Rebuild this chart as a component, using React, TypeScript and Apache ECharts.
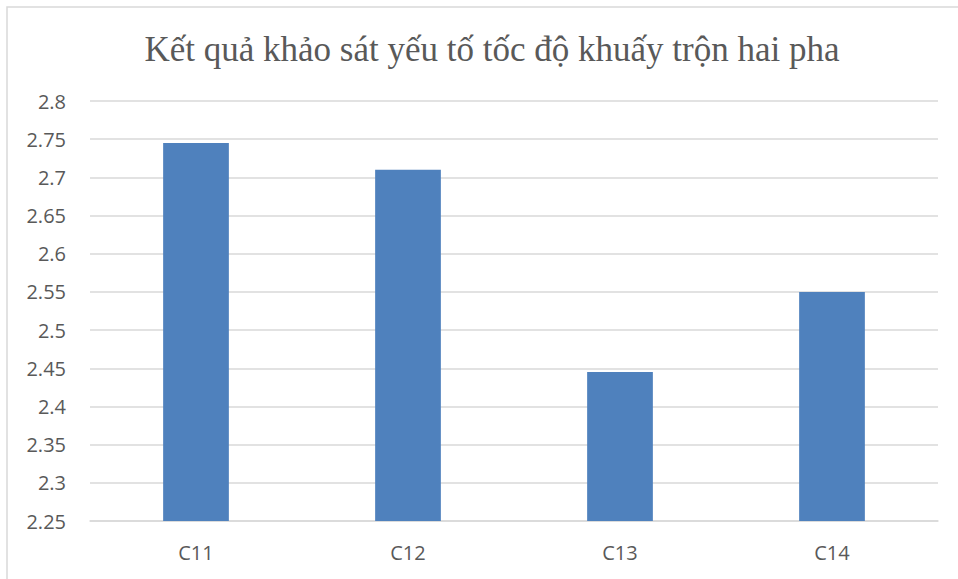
import React, { useEffect, useRef } from "react";
import * as echarts from "echarts";

const categories = ["C11", "C12", "C13", "C14"];
const values = [2.745, 2.71, 2.445, 2.55];
const yMin = 2.25;
const yMax = 2.8;
const yStep = 0.05;
const titleText = "Kết quả khảo sát yếu tố tốc độ khuấy trộn hai pha";

export default function App() {
  const ref = useRef<HTMLDivElement>(null);
  useEffect(() => {
    if (!ref.current) return;
    const chart = echarts.init(ref.current, undefined, { renderer: "svg" });
    chart.setOption({
      animation: false,
      backgroundColor: "#ffffff",
      title: {
        text: titleText,
        left: 487,
        textAlign: "center",
        top: 27,
        textStyle: {
          fontFamily: "Liberation Serif",
          fontWeight: "normal",
          fontSize: 35,
          color: "#595959",
        },
      },
      graphic: [
        {
          type: "rect",
          shape: { x: 7, y: 7, width: 1000, height: 1000 },
          style: { fill: "none", stroke: "#d9d9d9", lineWidth: 1.5 },
          z: -1,
        },
      ],
      grid: { left: 90, right: 20, top: 101, bottom: 58 },
      xAxis: {
        type: "category",
        data: categories,
        axisLine: { show: true, lineStyle: { color: "#d9d9d9", width: 1.5 } },
        axisTick: { show: false },
        axisLabel: {
          margin: 21,
          fontFamily: "Open Sans",
          fontSize: 20,
          color: "#595959",
        },
      },
      yAxis: {
        type: "value",
        min: yMin,
        max: yMax,
        interval: yStep,
        axisLine: { show: false },
        axisTick: { show: false },
        splitLine: { lineStyle: { color: "#d9d9d9", width: 1.5 } },
        axisLabel: {
          margin: 24,
          fontFamily: "Open Sans",
          fontSize: 20,
          color: "#595959",
          formatter: (v: number) => String(parseFloat(v.toFixed(2))),
        },
      },
      series: [
        {
          type: "bar",
          data: values,
          barWidth: "31%",
          itemStyle: { color: "#4f81bd" },
        },
      ],
    });
    return () => chart.dispose();
  }, []);
  return (
    <div
      ref={ref}
      style={{ position: "fixed", left: 0, top: 0, width: 958, height: 579 }}
    />
  );
}
